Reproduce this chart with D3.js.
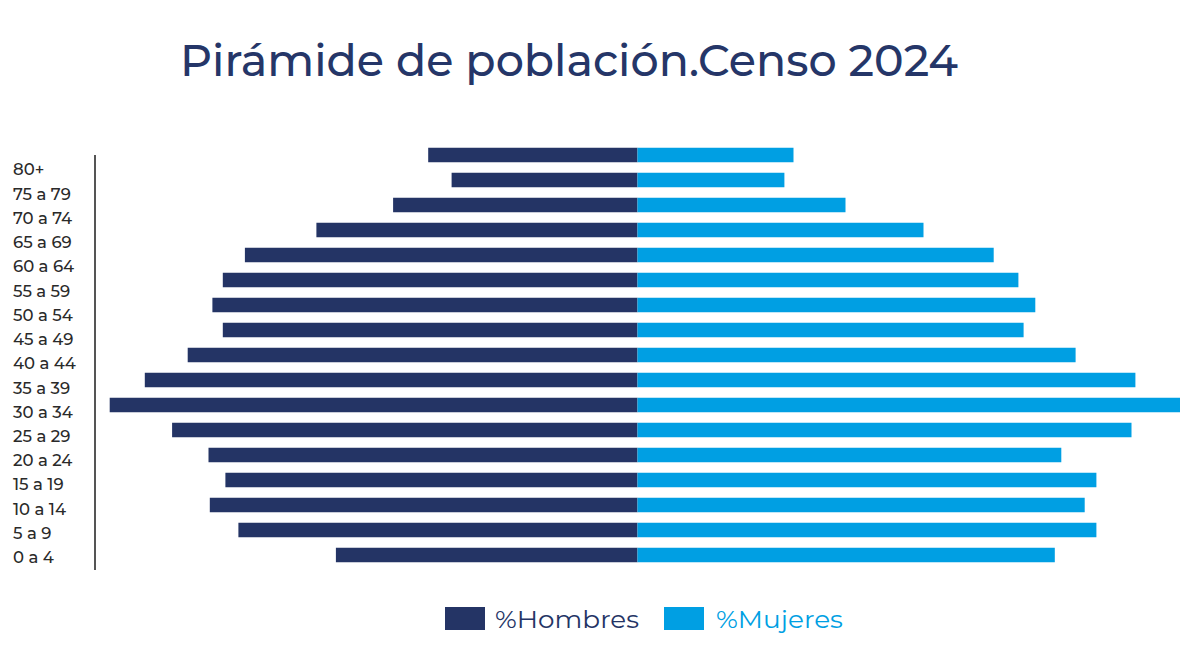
<!DOCTYPE html>
<html><head><meta charset="utf-8">
<script src="https://cdn.jsdelivr.net/npm/d3@7"></script>
<style>body{margin:0;background:#fff;} svg{display:block;}</style>
</head><body>
<svg id="c" width="1180" height="658"></svg>
<script>
const ageGroups = ["80+","75 a 79","70 a 74","65 a 69","60 a 64","55 a 59","50 a 54","45 a 49","40 a 44","35 a 39","30 a 34","25 a 29","20 a 24","15 a 19","10 a 14","5 a 9","0 a 4"];
const hombres = [1.61,1.43,1.88,2.47,3.02,3.19,3.27,3.19,3.46,3.79,4.06,3.58,3.30,3.17,3.29,3.07,2.32];
const mujeres = [1.20,1.13,1.60,2.20,2.74,2.93,3.06,2.97,3.37,3.83,4.30,3.80,3.26,3.53,3.44,3.53,3.21];
const seriesNames = ["%Hombres","%Mujeres"];
const colors = ["#243465","#009fe3"];
const titleText = "Pirámide de población.Censo 2024";

const svg = d3.select("#c");
const font = "Montserrat, 'Open Sans', 'Noto Sans', sans-serif";

svg.append("text").attr("x",180).attr("y",76).attr("font-family",font)
  .attr("font-size",44).attr("font-weight",500).attr("fill","#253668").attr("textLength",778).attr("lengthAdjust","spacingAndGlyphs")
  .text(titleText);

const x = d3.scaleLinear().domain([-5,5]).range([637.5-650,637.5+650]);
const yBar = d3.scaleBand().domain(ageGroups).range([142.5,567.5]).paddingInner(0.42).paddingOuter(0.21);
const yLab = d3.scaleBand().domain(ageGroups).range([158,570]).padding(0);

const data = ageGroups.map((g,i)=>({g,h:hombres[i],m:mujeres[i]}));

svg.append("g").selectAll("rect").data(data).join("rect")
  .attr("x",d=>x(-d.h)).attr("width",d=>x(0)-x(-d.h))
  .attr("y",d=>yBar(d.g)).attr("height",yBar.bandwidth()).attr("fill",colors[0]);
svg.append("g").selectAll("rect").data(data).join("rect")
  .attr("x",x(0)).attr("width",d=>x(d.m)-x(0))
  .attr("y",d=>yBar(d.g)).attr("height",yBar.bandwidth()).attr("fill",colors[1]);

// y axis
const yAxis = d3.axisLeft(yLab).tickSize(0).tickPadding(0);
const ag = svg.append("g").attr("transform","translate(95,0)").call(yAxis);
ag.select(".domain").remove();
ag.selectAll("text").attr("x",-82).attr("text-anchor","start").attr("font-family",font)
  .attr("font-size",16.5).attr("font-weight",500).attr("fill","#2a2a2a");
svg.append("line").attr("x1",95).attr("x2",95).attr("y1",155).attr("y2",570)
  .attr("stroke","#555").attr("stroke-width",2);

// legend
const leg = [{x:445,tx:495,tl:144},{x:664,tx:716,tl:127}];
leg.forEach((l,i)=>{
  svg.append("rect").attr("x",l.x).attr("y",607).attr("width",40).attr("height",23).attr("fill",colors[i]);
  svg.append("text").attr("x",l.tx).attr("y",628).attr("font-family",font).attr("font-size",24)
    .attr("fill",colors[i]).attr("textLength",l.tl).attr("lengthAdjust","spacingAndGlyphs").text(seriesNames[i]);
});
</script>
</body></html>
